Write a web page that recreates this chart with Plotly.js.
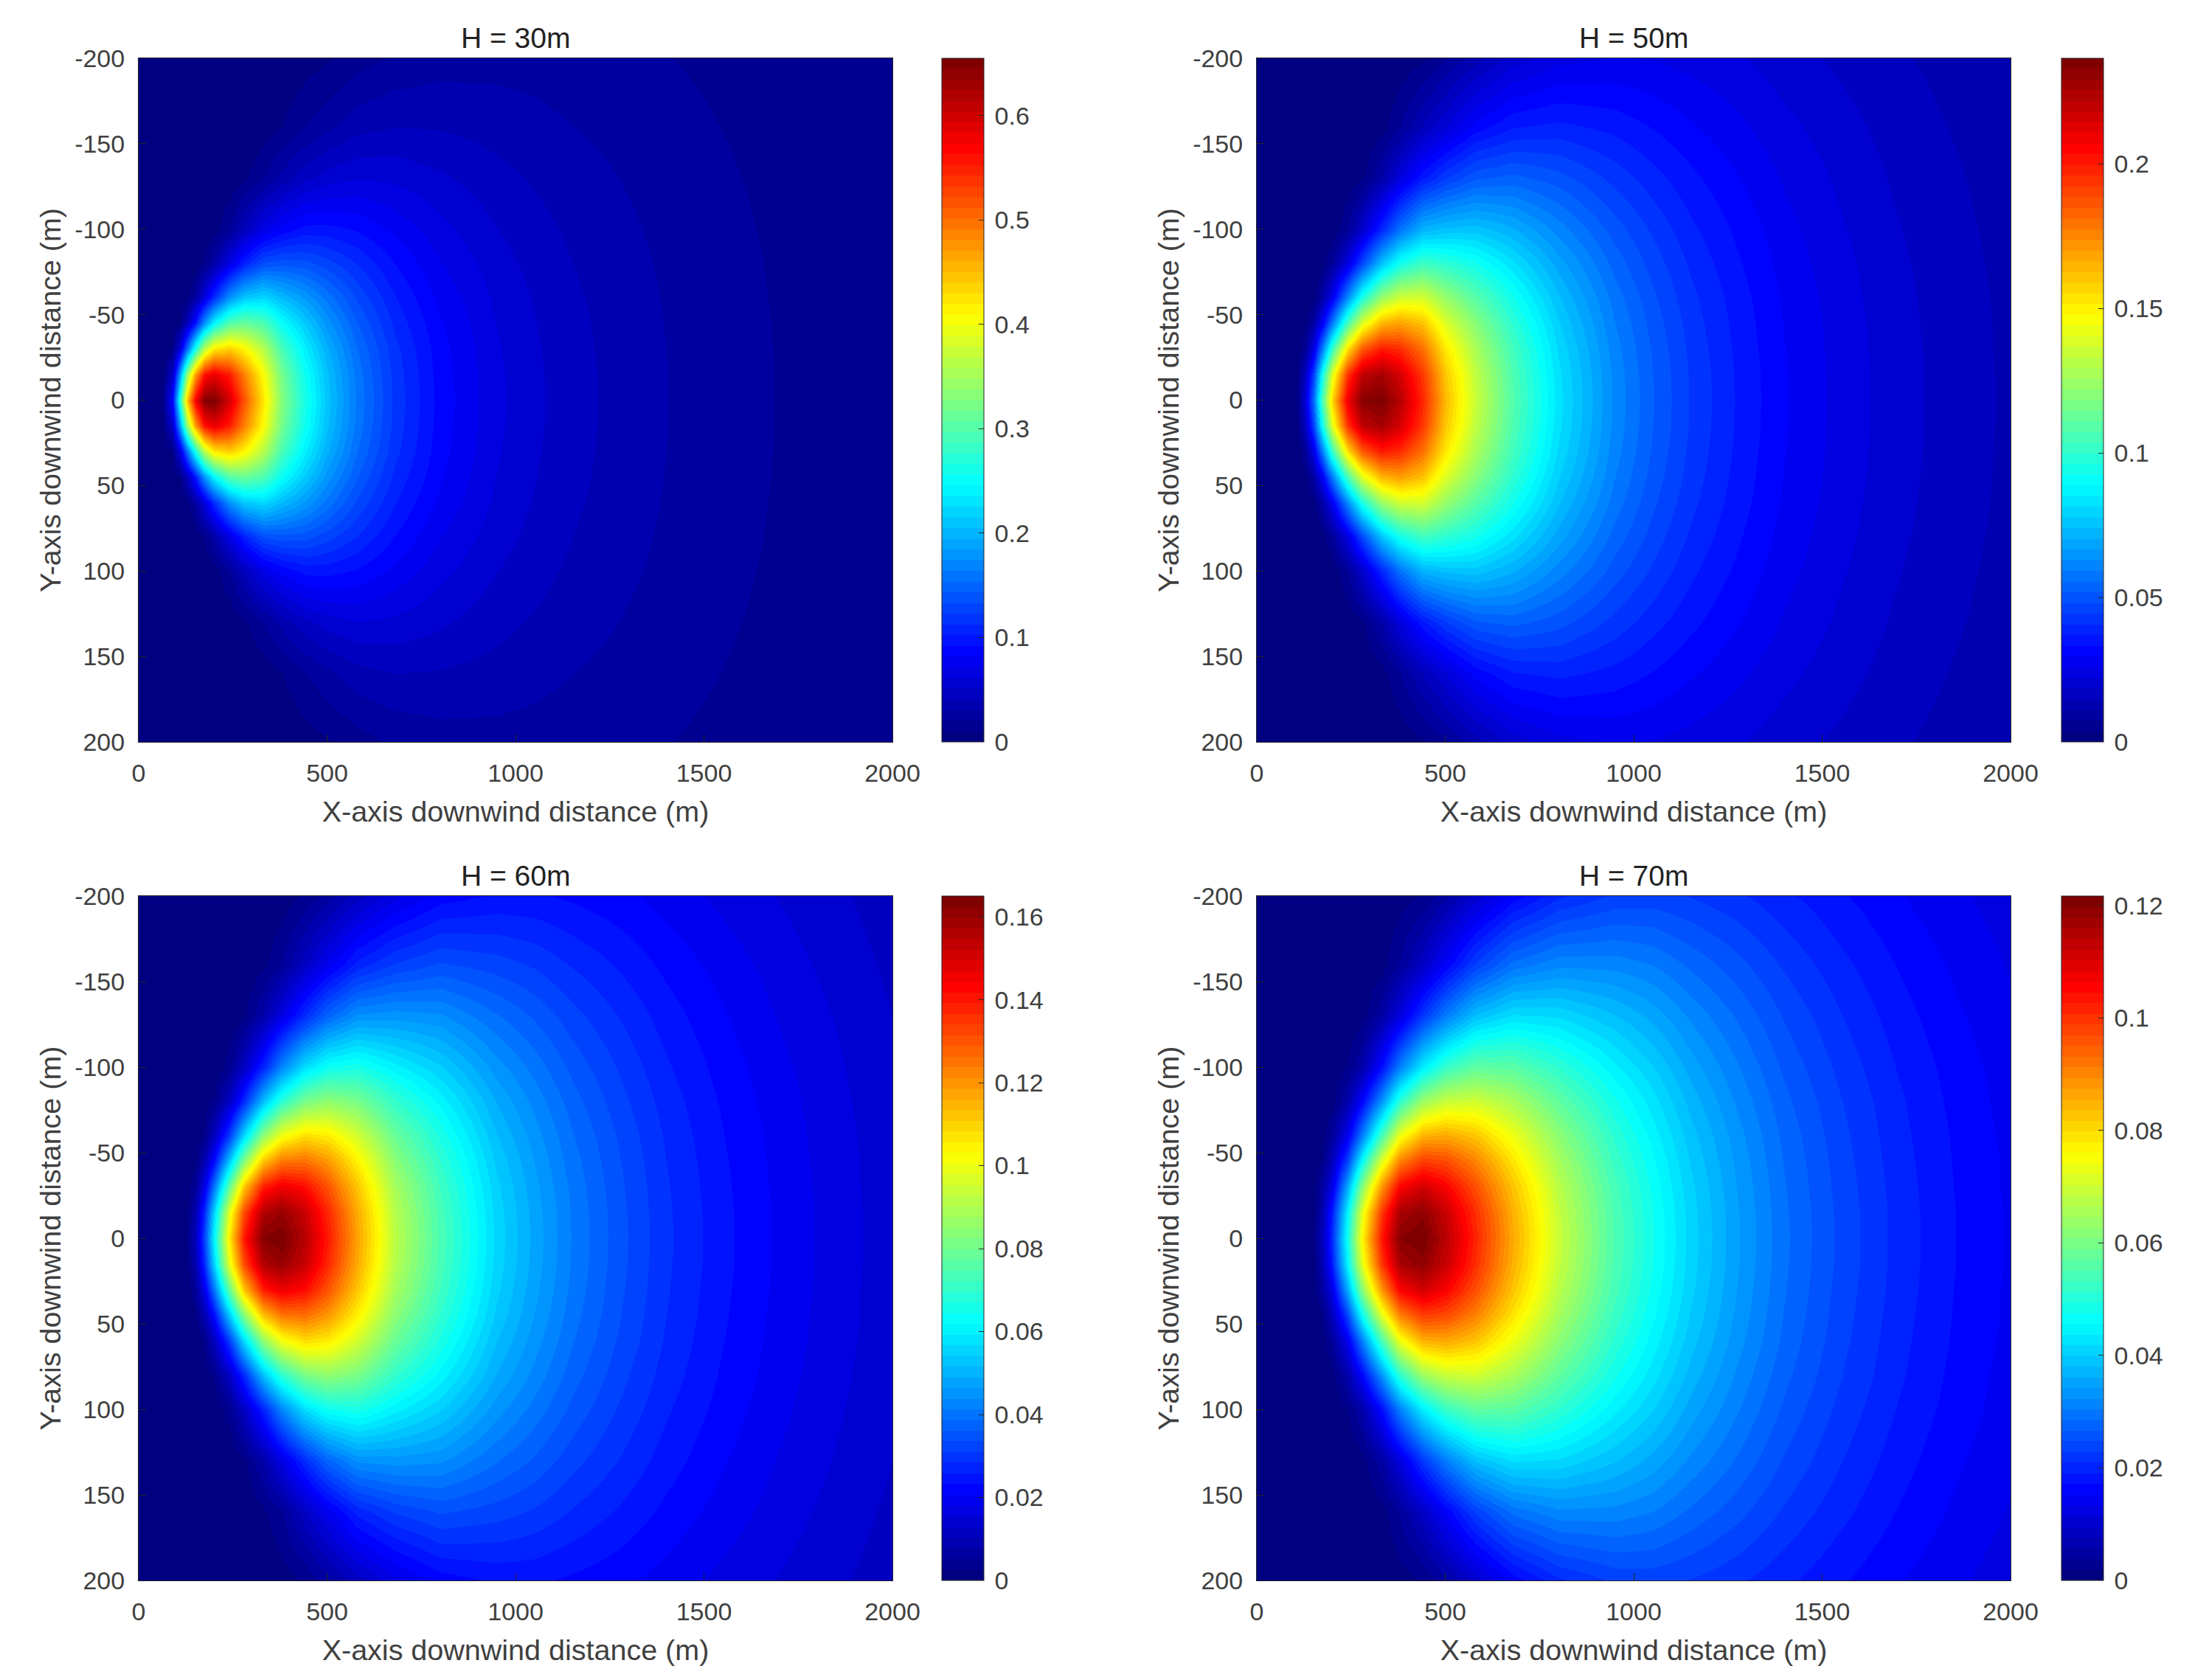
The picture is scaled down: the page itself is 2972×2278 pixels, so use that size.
<!DOCTYPE html>
<html>
<head>
<meta charset="utf-8">
<script src="https://cdn.plot.ly/plotly-3.0.1.min.js"></script>
<style>html,body{margin:0;padding:0;background:#fff}#c{width:2972px;height:2278px}</style>
</head>
<body>
<div id="c"></div>
<script>
// Downwind stations (m), one row of each table below per station.
const stations = [0,60,90,110,130,150,175,200,240,280,330,380,440,500,580,680,800,950,1050,1150,1275,1400,1550,1700,1850,2000];
// Crosswind distances (m) read on one side of the centreline; the plume is symmetric.
const crosswind = [0,15,30,45,60,80,100,130,160,200];

const h30 = [
[0,0,0,0,0,0,0,0,0,0],
[.001,0,0,0,0,0,0,0,0,0],
[.092,.053,.010,.001,0,0,0,0,0,0],
[.269,.187,.063,.010,.001,0,0,0,0,0],
[.449,.346,.158,.043,.007,0,0,0,0,0],
[.574,.472,.263,.099,.025,.002,0,0,0,0],
[.646,.560,.364,.178,.065,.011,.001,0,0,0],
[.652,.584,.421,.243,.112,.029,.005,0,0,0],
[.596,.552,.439,.300,.176,.068,.020,.002,0,0],
[.517,.489,.413,.312,.211,.105,.043,.008,.001,0],
[.424,.407,.361,.295,.222,.134,.070,.020,.004,0],
[.330,.320,.292,.251,.203,.139,.085,.034,.010,.001],
[.262,.256,.239,.214,.182,.137,.096,.048,.020,.005],
[.210,.206,.196,.179,.159,.127,.096,.056,.028,.009],
[.162,.160,.154,.144,.131,.112,.091,.061,.037,.016],
[.120,.119,.116,.110,.103,.092,.079,.059,.041,.022],
[.088,.087,.086,.083,.079,.072,.065,.053,.040,.026],
[.064,.0637,.0628,.0612,.0592,.0557,.0516,.0444,.0368,.0269],
[.0535,.0533,.0526,.0516,.0502,.0478,.0448,.0396,.034,.0263],
[.045,.0449,.0444,.0437,.0427,.041,.0388,.0351,.0308,.0249],
[.0375,.0374,.0371,.0366,.0359,.0347,.0333,.0306,.0276,.0232],
[.031,.0309,.0307,.0304,.0299,.0291,.0281,.0262,.024,.0208],
[.025,.025,.0248,.0246,.0243,.0237,.0231,.0218,.0203,.0181],
[.020,.020,.0199,.0197,.0195,.0192,.0187,.0178,.0168,.0153],
[.0163,.0163,.0162,.0161,.016,.0157,.0154,.0148,.0141,.013],
[.013,.013,.0129,.0129,.0128,.0126,.0124,.012,.0115,.0107]
];
const h50 = [
[0,0,0,0,0,0,0,0,0,0],
[0,0,0,0,0,0,0,0,0,0],
[0,0,0,0,0,0,0,0,0,0],
[.005,.004,.001,0,0,0,0,0,0,0],
[.023,.018,.008,.002,0,0,0,0,0,0],
[.056,.046,.025,.010,.002,0,0,0,0,0],
[.107,.093,.060,.029,.011,.002,0,0,0,0],
[.156,.140,.101,.058,.027,.007,.001,0,0,0],
[.209,.194,.154,.105,.062,.024,.007,.001,0,0],
[.2325,.220,.186,.140,.095,.047,.019,.003,0,0],
[.2355,.226,.200,.164,.123,.075,.039,.011,.002,0],
[.222,.215,.196,.169,.136,.093,.057,.023,.007,.001],
[.197,.193,.180,.161,.137,.103,.072,.036,.015,.003],
[.163,.160,.152,.139,.123,.099,.075,.044,.022,.007],
[.135,.133,.128,.120,.109,.093,.076,.051,.031,.013],
[.108,.1069,.104,.0991,.0928,.0824,.0708,.0529,.0366,.020],
[.083,.0824,.0808,.078,.0744,.0683,.0612,.0496,.038,.0245],
[.062,.0617,.0608,.0593,.0574,.054,.05,.043,.0357,.0261],
[.052,.0518,.0512,.0502,.0488,.0464,.0436,.0385,.033,.0256],
[.044,.0439,.0434,.0427,.0417,.04,.0379,.0343,.0301,.0244],
[.0365,.0364,.0361,.0356,.035,.0338,.0324,.0298,.0268,.0226],
[.030,.0299,.0297,.0294,.029,.0281,.0272,.0254,.0233,.0201],
[.0245,.0245,.0243,.0241,.0238,.0233,.0226,.0214,.0199,.0177],
[.020,.020,.0199,.0197,.0195,.0192,.0187,.0178,.0168,.0153],
[.0168,.0168,.0167,.0166,.0165,.0162,.0159,.0153,.0145,.0134],
[.014,.014,.0139,.0139,.0138,.0136,.0133,.0129,.0123,.0115]
];
const h60 = [
[0,0,0,0,0,0,0,0,0,0],
[0,0,0,0,0,0,0,0,0,0],
[0,0,0,0,0,0,0,0,0,0],
[0,0,0,0,0,0,0,0,0,0],
[.003,.002,.001,0,0,0,0,0,0,0],
[.011,.009,.005,.002,0,0,0,0,0,0],
[.032,.028,.018,.009,.003,.001,0,0,0,0],
[.061,.055,.040,.023,.011,.003,0,0,0,0],
[.106,.099,.078,.054,.031,.012,.004,0,0,0],
[.140,.132,.112,.084,.057,.028,.012,.002,0,0],
[.163,.156,.139,.113,.085,.052,.027,.008,.002,0],
[.165,.160,.146,.125,.101,.069,.043,.017,.005,.001],
[.155,.152,.142,.126,.108,.081,.057,.028,.012,.003],
[.14,.1376,.1305,.1196,.1057,.085,.0641,.0374,.0189,.0062],
[.118,.1165,.112,.1049,.0957,.0813,.066,.0443,.0267,.0116],
[.092,.0911,.0886,.0845,.079,.0702,.0604,.0451,.0312,.017],
[.074,.0735,.072,.0696,.0663,.0609,.0545,.0442,.0339,.0218],
[.056,.0557,.0549,.0536,.0518,.0488,.0451,.0389,.0322,.0236],
[.048,.0478,.0472,.0463,.045,.0429,.0402,.0356,.0305,.0236],
[.041,.0409,.0405,.0398,.0389,.0373,.0353,.0319,.0281,.0227],
[.0345,.0344,.0341,.0337,.0331,.0319,.0306,.0282,.0254,.0213],
[.029,.0289,.0287,.0284,.028,.0272,.0262,.0245,.0225,.0195],
[.024,.024,.0238,.0236,.0233,.0228,.0221,.0209,.0195,.0173],
[.020,.020,.0199,.0197,.0195,.0192,.0187,.0178,.0168,.0153],
[.0168,.0168,.0167,.0166,.0165,.0162,.0159,.0153,.0145,.0134],
[.014,.014,.0139,.0139,.0138,.0136,.0133,.0129,.0123,.0115]
];
const h70 = [
[0,0,0,0,0,0,0,0,0,0],
[0,0,0,0,0,0,0,0,0,0],
[0,0,0,0,0,0,0,0,0,0],
[0,0,0,0,0,0,0,0,0,0],
[0,0,0,0,0,0,0,0,0,0],
[.002,.001,.001,0,0,0,0,0,0,0],
[.008,.007,.005,.002,.001,0,0,0,0,0],
[.021,.019,.013,.008,.004,.001,0,0,0,0],
[.048,.045,.036,.024,.014,.006,.002,0,0,0],
[.077,.073,.062,.047,.031,.016,.006,.001,0,0],
[.103,.099,.088,.072,.054,.033,.017,.005,.001,0],
[.120,.116,.106,.091,.074,.051,.031,.012,.004,.001],
[.1217,.119,.111,.099,.085,.064,.044,.022,.009,.002],
[.114,.1121,.1062,.0974,.0861,.0692,.0522,.0304,.0154,.005],
[.102,.1007,.0968,.0907,.0827,.0703,.0571,.0383,.0231,.01],
[.086,.0851,.0828,.0789,.0739,.0656,.0564,.0421,.0292,.0159],
[.0695,.069,.0676,.0653,.0623,.0572,.0512,.0415,.0318,.0205],
[.055,.0547,.054,.0526,.0509,.0479,.0443,.0382,.0316,.0232],
[.0478,.0476,.047,.0461,.0448,.0427,.0401,.0354,.0304,.0235],
[.041,.0409,.0405,.0398,.0389,.0373,.0353,.0319,.0281,.0227],
[.0345,.0344,.0341,.0337,.0331,.0319,.0306,.0282,.0254,.0213],
[.029,.0289,.0287,.0284,.028,.0272,.0262,.0245,.0225,.0195],
[.0241,.0241,.0239,.0237,.0234,.0229,.0222,.021,.0196,.0174],
[.0202,.0202,.0201,.0199,.0197,.0194,.0189,.018,.017,.0154],
[.0172,.0172,.0171,.017,.0169,.0166,.0163,.0156,.0149,.0137],
[.0149,.0149,.0148,.0148,.0146,.0144,.0142,.0137,.0131,.0123]
];

const titles = ['H = 30m','H = 50m','H = 60m','H = 70m'];
const tables = [h30,h50,h60,h70];
const zMax = [0.655,0.2365,0.165,0.1217];
const barTicks = [
  [0,0.1,0.2,0.3,0.4,0.5,0.6],
  [0,0.05,0.1,0.15,0.2],
  [0,0.02,0.04,0.06,0.08,0.1,0.12,0.14,0.16],
  [0,0.02,0.04,0.06,0.08,0.1,0.12]
];
const barLabels = [
  ['0','0.1','0.2','0.3','0.4','0.5','0.6'],
  ['0','0.05','0.1','0.15','0.2'],
  ['0','0.02','0.04','0.06','0.08','0.1','0.12','0.14','0.16'],
  ['0','0.02','0.04','0.06','0.08','0.1','0.12']
];
const xTicks = [0,500,1000,1500,2000];
const xLabels = ['0','500','1000','1500','2000'];
const yTicks = [-200,-150,-100,-50,0,50,100,150,200];
const yLabels = ['-200','-150','-100','-50','0','50','100','150','200'];
const xTitle = 'X-axis downwind distance (m)';
const yTitle = 'Y-axis downwind distance (m)';

// Page layout, in pixels
const W = 2972, H = 2278;
const lefts = [188,1704,188,1704], rights = [1210,2726,1210,2726];
const tops = [79,79,1215,1215], bottoms = [1006,1006,2143,2143];
const barLefts = [1277,2795,1277,2795], barWidth = 57;

// 64-step jet colormap
const jetKnots = [[0,0,0,.5],[.125,0,0,1],[.375,0,1,1],[.625,1,1,0],[.875,1,0,0],[1,.5,0,0]];
function jet(t){
  for(let i=1;i<jetKnots.length;i++){
    if(t<=jetKnots[i][0]){
      const a=jetKnots[i-1],b=jetKnots[i],f=(t-a[0])/(b[0]-a[0]);
      return 'rgb('+[1,2,3].map(k=>Math.round(255*(a[k]+(b[k]-a[k])*f))).join(',')+')';
    }
  }
  return 'rgb(128,0,0)';
}
const scale=[];
for(let i=0;i<64;i++){const c=jet(i/63);scale.push([i/64,c],[(i+1)/64,c]);}

const mirrorY = crosswind.slice(1).reverse().map(v=>-v).concat(crosswind);
const mirrorRow = r => r.slice(1).reverse().concat(r);

const textCol='#404040', font='"Liberation Sans", Arial, sans-serif', fs=34, ts=39.5;
const data=[], layout={
  width:W,height:H,margin:{l:0,r:0,t:0,b:0,pad:0},paper_bgcolor:'#fff',plot_bgcolor:'#fff',
  font:{family:font,size:fs,color:textCol},showlegend:false,annotations:[]
};
tables.forEach((tb,i)=>{
  const s=i===0?'':String(i+1);
  data.push({
    type:'heatmap',x:stations,y:mirrorY,z:tb.map(mirrorRow),transpose:true,
    xaxis:'x'+s,yaxis:'y'+s,zsmooth:'best',zmin:0,zmax:zMax[i],zauto:false,
    colorscale:scale,hoverinfo:'skip',
    colorbar:{
      x:barLefts[i]/W,xanchor:'left',xpad:0,
      y:(H-bottoms[i])/H,yanchor:'bottom',ypad:0,
      len:(bottoms[i]-tops[i])/H,lenmode:'fraction',
      thickness:barWidth,thicknessmode:'pixels',
      tickmode:'array',tickvals:barTicks[i],ticktext:barLabels[i].map(t=>'\u2009'+t),
      ticks:'inside',ticklen:7,tickwidth:1,tickcolor:'#262626',
      outlinecolor:'#262626',outlinewidth:1,borderwidth:0,
      tickfont:{family:font,size:fs,color:textCol}
    }
  });
  layout['xaxis'+s]={
    domain:[lefts[i]/W,rights[i]/W],anchor:'y'+s,range:[0,2000],
    tickmode:'array',tickvals:xTicks,ticktext:xLabels,ticks:'inside',ticklen:10,tickcolor:'#262626',
    showgrid:false,zeroline:false,showline:true,mirror:true,linecolor:'#262626',linewidth:1,
    ticklabelstandoff:12,tickfont:{family:font,size:fs,color:textCol},
    title:{text:xTitle,standoff:20,font:{family:font,size:ts,color:textCol}}
  };
  layout['yaxis'+s]={
    domain:[(H-bottoms[i])/H,(H-tops[i])/H],anchor:'x'+s,range:[200,-200],
    tickmode:'array',tickvals:yTicks,ticktext:yLabels,ticks:'inside',ticklen:10,tickcolor:'#262626',
    showgrid:false,zeroline:false,showline:true,mirror:true,linecolor:'#262626',linewidth:1,
    ticklabelstandoff:11,tickfont:{family:font,size:fs,color:textCol},
    title:{text:yTitle,standoff:6,font:{family:font,size:ts,color:textCol}}
  };
  layout.annotations.push({
    xref:'paper',yref:'paper',x:(lefts[i]+rights[i])/2/W,y:(H-tops[i]+4)/H,
    xanchor:'center',yanchor:'bottom',showarrow:false,text:titles[i],
    font:{family:font,size:39,color:'#222'}
  });
});
Plotly.newPlot('c',data,layout,{displayModeBar:false,responsive:false});
</script>
</body>
</html>
